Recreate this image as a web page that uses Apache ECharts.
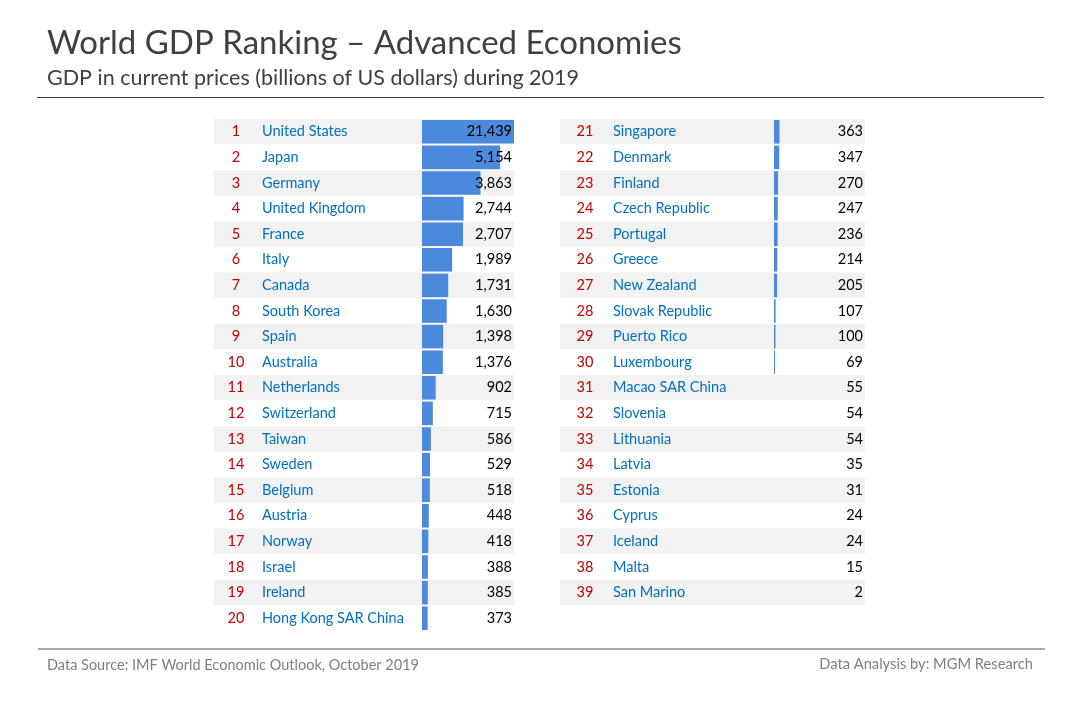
<!DOCTYPE html>
<html>
<head>
<meta charset="utf-8">
<title>World GDP Ranking</title>
<script src="https://cdn.jsdelivr.net/npm/echarts@6/dist/echarts.min.js"></script>
<style>
	html, body { margin: 0; padding: 0; background: #fff; }
	#chart { width: 1080px; height: 720px; }
</style>
</head>
<body>
<div id="chart"></div>
<script>
var countries = [
	"United States", "Japan", "Germany", "United Kingdom", "France", "Italy", "Canada", "South Korea", "Spain", "Australia",
	"Netherlands", "Switzerland", "Taiwan", "Sweden", "Belgium", "Austria", "Norway", "Israel", "Ireland", "Hong Kong SAR China",
	"Singapore", "Denmark", "Finland", "Czech Republic", "Portugal", "Greece", "New Zealand", "Slovak Republic", "Puerto Rico", "Luxembourg",
	"Macao SAR China", "Slovenia", "Lithuania", "Latvia", "Estonia", "Cyprus", "Iceland", "Malta", "San Marino"
];
var gdp = [
	21439, 5154, 3863, 2744, 2707, 1989, 1731, 1630, 1398, 1376,
	902, 715, 586, 529, 518, 448, 418, 388, 385, 373,
	363, 347, 270, 247, 236, 214, 205, 107, 100, 69,
	55, 54, 54, 35, 31, 24, 24, 15, 2
];

(function() {
	var myChart = echarts.init(document.getElementById("chart"));
	var font = "Lato";
	var unitsPerPx = 66;
	// under about a pixel the reference shows no bar at all
	var minDrawn = unitsPerPx * 0.9;

	var grids = [];
	var xAxes = [];
	var yAxes = [];
	var series = [];

	function fmt(v) {
		return String(v).replace(/\B(?=(\d{3})+$)/g, ",");
	}

	function labelAxis(gridIndex, data, position, margin, align, color, z) {
		return {
			type: "category",
			gridIndex: gridIndex,
			position: position,
			inverse: true,
			data: data,
			z: z,
			axisLine: { show: false },
			axisTick: { show: false },
			axisLabel: {
				inside: true,
				interval: 0,
				margin: margin,
				align: align,
				color: color,
				fontFamily: font,
				fontSize: 14.5
			}
		};
	}

	// each panel: stripes + rank + name on the left axes, value on the right one
	function addPanel(left, width, zero, rankMargin, nameMargin, from, to) {
		var n = grids.length;
		var ranks = [], names = [], vals = [], bars = [];
		for (var i = from; i < to; i++) {
			ranks.push(String(i + 1));
			names.push(countries[i]);
			vals.push(fmt(gdp[i]));
			bars.push(gdp[i] < minDrawn ? null : gdp[i]);
		}
		while (ranks.length < 20) {
			ranks.push("");
			names.push("");
			vals.push("");
			bars.push(null);
		}
		grids.push({ left: left, top: 119, width: width, height: 512 });
		xAxes.push({
			type: "value",
			gridIndex: n,
			show: false,
			min: -zero * unitsPerPx,
			max: (width - zero) * unitsPerPx
		});
		var first = labelAxis(n, ranks, "left", rankMargin, "center", "#c00000", 0);
		first.splitArea = { show: true, areaStyle: { color: ["#f2f2f2", "#ffffff"] } };
		yAxes.push(first);
		yAxes.push(labelAxis(n, names, "left", nameMargin, "left", "#0070c0", 1));
		yAxes.push(labelAxis(n, vals, "right", 2, "right", "#000000", 10));
		series.push({
			type: "bar",
			xAxisIndex: n,
			yAxisIndex: yAxes.length - 3,
			data: bars,
			barCategoryGap: "8%",
			clip: true,
			silent: true,
			itemStyle: { color: "#4a89dc" }
		});
	}

	addPanel(214, 300, 208, 22, 48, 0, 20);
	addPanel(560, 305, 214, 25, 53, 20, 39);

	var option = {
		animation: false,
		backgroundColor: "#ffffff",
		title: [
			{ text: "World GDP Ranking – Advanced Economies", left: 42, top: 22, textStyle: { fontFamily: font, fontWeight: "normal", fontSize: 33, color: "#404040" } },
			{ text: "GDP in current prices (billions of US dollars) during 2019", left: 42, top: 62, textStyle: { fontFamily: font, fontWeight: "normal", fontSize: 21.5, color: "#404040" } },
			{ text: "Data Source: IMF World Economic Outlook, October 2019", left: 42, top: 653, textStyle: { fontFamily: font, fontWeight: "normal", fontSize: 14.5, color: "#7f7f7f" } },
			{ text: "Data Analysis by: MGM Research", right: 42, top: 652, textStyle: { fontFamily: font, fontWeight: "normal", fontSize: 14.7, color: "#7f7f7f" } }
		],
		graphic: [
			{ type: "line", shape: { x1: 37, y1: 97.5, x2: 1044, y2: 97.5 }, style: { stroke: "#404040", lineWidth: 1 } },
			{ type: "line", shape: { x1: 38, y1: 649, x2: 1045, y2: 649 }, style: { stroke: "#8c8c8c", lineWidth: 1.5 } }
		],
		grid: grids,
		xAxis: xAxes,
		yAxis: yAxes,
		series: series
	};

	myChart.setOption(option);

	window.addEventListener("resize", function() {
		myChart.resize();
	});
})();
</script>
</body>
</html>
